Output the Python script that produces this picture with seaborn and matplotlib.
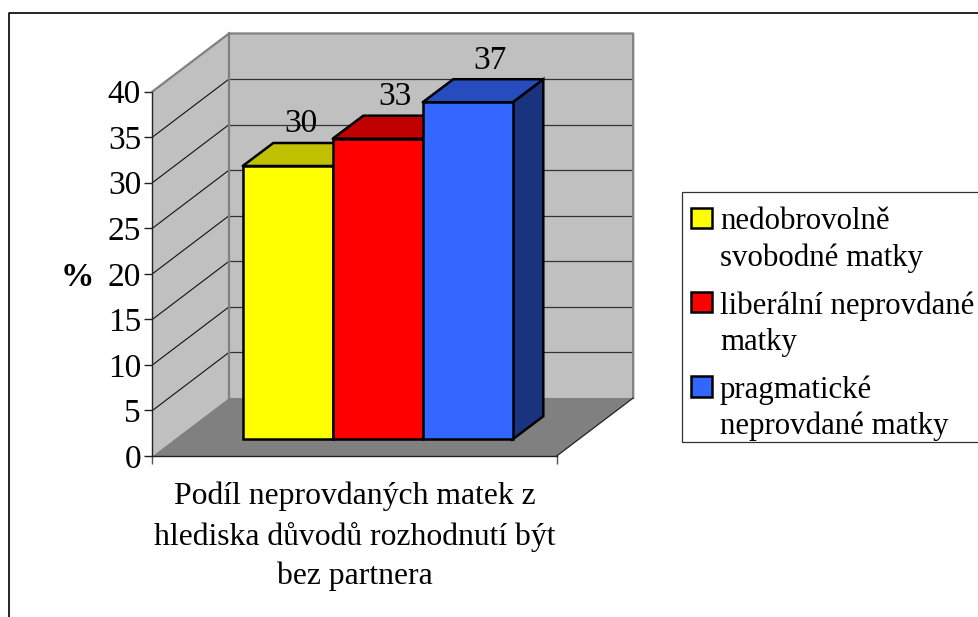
import matplotlib
matplotlib.use("Agg")
import matplotlib.pyplot as plt
import pandas as pd
import seaborn as sns
from matplotlib.lines import Line2D
from matplotlib.patches import Patch, Polygon, Rectangle
from matplotlib.legend_handler import HandlerPatch

# data
groups = ["nedobrovolně\nsvobodné matky", "liberální neprovdané\nmatky", "pragmatické\nneprovdané matky"]
shares = [30, 33, 37]
front_colors = ["#FFFF00", "#FF0000", "#3366FF"]
top_colors = ["#C0C000", "#C00000", "#264CBF"]
side_color = "#19337F"
y_ticks = [0, 5, 10, 15, 20, 25, 30, 35, 40]
x_title = "Podíl neprovdaných matek z\nhlediska důvodů rozhodnutí být\nbez partnera"

W, H = 979, 617

sns.set_theme(style="white")
plt.rcParams["font.family"] = ["Liberation Serif", "DejaVu Sans"]

fig = plt.figure(figsize=(W / 100, H / 100), dpi=100, facecolor="white")


def box(x0, y_top, x1, y_bottom):
    # pixel box to figure fractions
    return [x0 / W, 1 - y_bottom / H, (x1 - x0) / W, (y_bottom - y_top) / H]


# outer chart border, open on the right and at the bottom
fig.add_artist(Line2D([9.3 / W, 9.3 / W, 1], [0, 1 - 12.7 / H, 1 - 12.7 / H], color="black", lw=1.2))

# walls and floor
ax = fig.add_axes(box(152.5, 91.5, 556.7, 456))
ax.set_xlim(0, 1)
ax.set_ylim(0, 40)
ax.patch.set_visible(False)
ddx = 76.5 / 404.2
ddy = 58 / 9.11

ax.add_patch(Polygon([(0, 0), (ddx, ddy), (ddx, 40 + ddy), (0, 40)], fc="#C0C0C0", ec="none", clip_on=False))
ax.add_patch(Rectangle((ddx, ddy), 1, 40, fc="#C0C0C0", ec="none", clip_on=False))
ax.add_patch(Polygon([(0, 0), (ddx, ddy), (1 + ddx, ddy), (1, 0)], fc="#808080", ec="none", clip_on=False))

for t in y_ticks[1:-1]:
    ax.plot([0, ddx], [t, t + ddy], color="#111111", lw=0.8, clip_on=False)
    ax.plot([ddx, 1 + ddx], [t + ddy, t + ddy], color="#333333", lw=0.9, clip_on=False)

wall_edge = dict(color="#808080", lw=1.6, clip_on=False, solid_capstyle="projecting")
ax.plot([0, ddx, 1 + ddx, 1 + ddx], [40, 40 + ddy, 40 + ddy, ddy], **wall_edge)
ax.plot([ddx, ddx], [ddy, 40 + ddy], **wall_edge)
ax.plot([1, 1 + ddx], [0, ddy], color="#222222", lw=0.9, clip_on=False)

ax.set_yticks(y_ticks)
ax.set_xticks([0, 1])
ax.set_xticklabels(["", ""])
ax.tick_params(axis="y", left=True, length=6, width=1, color="#222222", labelsize=24, pad=2.2, labelcolor="black")
ax.tick_params(axis="x", bottom=True, length=6, width=1, color="#555555")
for side in ["top", "right"]:
    ax.spines[side].set_visible(False)
for side in ["left", "bottom"]:
    ax.spines[side].set_color("#222222")
    ax.spines[side].set_linewidth(1)

ax.set_ylabel("%", rotation=0, fontsize=24, fontweight="bold", color="black")
ax.yaxis.set_label_coords(-75 / 404.2, (456 - 286) / 364.5, transform=ax.transAxes)
ax.yaxis.label.set_va("baseline")
ax.set_xlabel(x_title, fontsize=22.8, color="black", linespacing=1.45, labelpad=9)

# the bars sit on their own front plane, further back than the axis
bar_ax = fig.add_axes(box(242.7, 74.9, 512.7, 439.3))
df = pd.DataFrame({"skupina": groups, "podil": shares})
sns.barplot(data=df, x="skupina", y="podil", hue="skupina", palette=front_colors, saturation=1,
            width=1, dodge=False, legend=False, edgecolor="black", linewidth=1.8, ax=bar_ax)
bar_ax.set_xlim(-0.5, 2.5)
bar_ax.set_ylim(0, 40)
bar_ax.axis("off")

bdx = 30.6 / 90
bdy = 23 / 9.11
label_shift = [13, 17.5, 22]

for i, (bar, v) in enumerate(zip(bar_ax.patches, shares)):
    bar.set_zorder(3 + i)
    bar.set_clip_on(False)
    l, r = i - 0.5, i + 0.5
    bar_ax.add_patch(Polygon([(l, v), (r, v), (r + bdx, v + bdy), (l + bdx, v + bdy)], fc=top_colors[i],
                             ec="black", lw=1.8, clip_on=False, zorder=2.5 + i, joinstyle="round"))
    bar_ax.annotate(str(v), (i, v + bdy), xytext=(label_shift[i] * 0.72, 7.6), textcoords="offset points",
                    ha="center", va="baseline", fontsize=24, color="black", annotation_clip=False, zorder=10)

last = len(shares) - 1
bar_ax.add_patch(Polygon([(last + 0.5, 0), (last + 0.5 + bdx, bdy), (last + 0.5 + bdx, shares[last] + bdy),
                          (last + 0.5, shares[last])], fc=side_color, ec="black", lw=1.8, clip_on=False, zorder=2))


def raised_swatch(legend, orig_handle, xdescent, ydescent, width, height, fontsize):
    # swatch lines up with the first line of the label
    return Rectangle((-xdescent, -ydescent + 15.7), width, height)


# legend box runs off the right edge of the picture
x0, y0, w0, h0 = box(682.3, 192.3, 1000, 441.7)
fig.add_artist(Rectangle((x0, y0), w0, h0, transform=fig.transFigure, fc="white", ec="#333333", lw=0.9))

handles = [Patch(fc=c, ec="black", lw=1.8) for c in front_colors]
leg = fig.legend(handles, groups, loc="upper left", bbox_to_anchor=(682.3 / W, 1 - 198.5 / H),
                 borderaxespad=0, borderpad=0.27, fontsize=22.2, frameon=False,
                 handlelength=0.68, handleheight=0.65, handletextpad=0.27, labelspacing=0.6,
                 handler_map={Patch: HandlerPatch(patch_func=raised_swatch)})
for t in leg.get_texts():
    t.set_linespacing(1.32)
    t.set_color("black")

fig.savefig("out.png", dpi=100, facecolor="white")
